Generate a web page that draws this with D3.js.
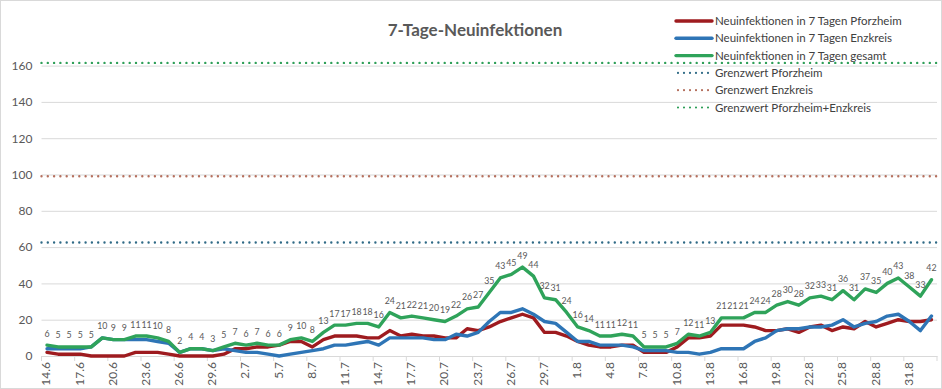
<!DOCTYPE html>
<html><head><meta charset="utf-8">
<script src="https://cdn.jsdelivr.net/npm/d3@7"></script>
<style>html,body{margin:0;padding:0;background:#fff;} svg{display:block;font-family:Lato,"Open Sans",sans-serif;}</style>
</head><body><div id="chart"></div>
<script>
const dates = ["14.6","15.6","16.6","17.6","18.6","19.6","20.6","21.6","22.6","23.6","24.6","25.6","26.6","27.6","28.6","29.6","30.6",
"1.7","2.7","3.7","4.7","5.7","6.7","7.7","8.7","9.7","10.7","11.7","12.7","13.7","14.7","15.7","16.7","17.7","18.7","19.7","20.7","21.7","22.7","23.7","24.7","25.7","26.7","27.7","28.7","29.7","30.7","31.7",
"1.8","2.8","3.8","4.8","5.8","6.8","7.8","8.8","9.8","10.8","11.8","12.8","13.8","14.8","15.8","16.8","17.8","18.8","19.8","20.8","21.8","22.8","23.8","24.8","25.8","26.8","27.8","28.8","29.8","30.8","31.8","1.9","2.9"];
const gesamt = [6,5,5,5,5,10,9,9,11,11,10,8,2,4,4,3,5,7,6,7,6,6,9,10,8,13,17,17,18,18,16,24,21,22,21,20,19,22,26,27,35,43,45,49,44,32,31,24,16,14,11,11,12,11,5,5,5,7,12,11,13,21,21,21,24,24,28,30,28,32,33,31,36,31,37,35,40,43,38,33,42];
const pforzheim = [2,1,1,1,0,0,0,0,2,2,2,1,0,0,0,0,1,4,4,5,5,6,8,8,5,9,11,11,11,10,10,14,11,12,11,11,10,10,15,14,16,19,21,23,21,13,13,11,8,6,5,5,6,6,2,2,2,5,10,10,11,17,17,17,16,14,14,15,13,16,17,14,16,15,19,16,18,20,19,19,20];
const enzkreis = [4,4,4,4,5,10,9,9,9,9,8,7,2,4,4,3,4,3,2,2,1,0,1,2,3,4,6,6,7,8,6,10,10,10,10,9,9,12,11,13,19,24,24,26,23,19,18,13,8,8,6,6,6,5,3,3,3,2,2,1,2,4,4,4,8,10,14,15,15,16,16,17,20,16,18,19,22,23,19,14,22];
const grenzwerte = [
  {name:"Grenzwert Pforzheim", value:62.5, color:"#2f6a86"},
  {name:"Grenzwert Enzkreis", value:99, color:"#b5705e"},
  {name:"Grenzwert Pforzheim+Enzkreis", value:161.5, color:"#2e9f58"}
];
const yTicks = [0,20,40,60,80,100,120,140,160];

const W=942,H=389;
const svg=d3.select("#chart").append("svg").attr("width",W).attr("height",H);
svg.append("rect").attr("x",0.5).attr("y",0.5).attr("width",W-1).attr("height",H-1).attr("fill","#fff").attr("stroke","#d9d9d9");

const left=41.5,right=937,y0=356;
const x=d3.scaleBand().domain(dates).range([left,right]);
const y=d3.scaleLinear().domain([0,160]).range([y0,65.6]);
const cx=d=>x(d)+x.bandwidth()/2;

// gridlines
const gy=svg.append("g").attr("transform",`translate(${left},0)`)
  .call(d3.axisLeft(y).tickValues(yTicks).tickSize(-(right-left)).tickPadding(9));
gy.select(".domain").remove();
gy.selectAll(".tick line").attr("stroke","#d9d9d9").attr("stroke-width",1);
gy.selectAll(".tick text").attr("fill","#595959").attr("font-size","12px").attr("font-family","Lato, sans-serif");

// x axis
const tickDates=dates.filter((d,i)=>i%3===0);
const gx=svg.append("g").attr("transform",`translate(0,${y0})`)
  .call(d3.axisBottom(x).tickValues(tickDates).tickSize(0).tickPadding(6));
gx.select(".domain").attr("stroke","#d9d9d9");
gx.selectAll(".tick text").attr("fill","#595959").attr("font-size","12px").attr("font-family","Lato, sans-serif")
  .attr("transform","rotate(-90)").attr("text-anchor","end").attr("dx","-0.5em").attr("dy","-0.1em").attr("x",null).attr("y",0)
  .style("dominant-baseline","central");
const bounds=dates.filter((d,i)=>i%3===0).map(d=>x(d)).concat([right]);
svg.append("g").selectAll("line").data(bounds).join("line")
  .attr("x1",d=>d).attr("x2",d=>d).attr("y1",y0).attr("y2",y0+5).attr("stroke","#d9d9d9");

// threshold lines
svg.append("g").selectAll("line").data(grenzwerte).join("line")
  .attr("x1",left).attr("x2",right).attr("y1",d=>y(d.value)).attr("y2",d=>y(d.value))
  .attr("stroke",d=>d.color).attr("stroke-width",2.4).attr("stroke-dasharray","0 6.3").attr("stroke-linecap","round");

const line=vals=>d3.line().x((d,i)=>cx(dates[i])).y(d=>y(d))(vals);
const series=[
  {name:"Neuinfektionen in 7 Tagen Pforzheim",vals:pforzheim,color:"#9e1b1f"},
  {name:"Neuinfektionen in 7 Tagen Enzkreis",vals:enzkreis,color:"#2e75b6"},
  {name:"Neuinfektionen in 7 Tagen gesamt",vals:gesamt,color:"#2fa35a"}
];
series.forEach(s=>{
  svg.append("path").attr("d",line(s.vals)).attr("fill","none").attr("stroke",s.color)
    .attr("stroke-width",3.4).attr("stroke-linejoin","round").attr("stroke-linecap","round");
});

// data labels
svg.append("g").selectAll("text").data(gesamt).join("text")
  .attr("x",(d,i)=>cx(dates[i])).attr("y",d=>y(d)-8.5)
  .attr("text-anchor","middle").attr("font-size","8.8px").attr("fill","#595959").text(d=>d);

// title
svg.append("text").attr("x",475).attr("y",36).attr("text-anchor","middle")
  .attr("font-size","17px").attr("font-weight","bold").attr("fill","#595959").text("7-Tage-Neuinfektionen");

// legend
const leg=[...series.map(s=>({name:s.name,color:s.color,dot:false})),
  ...grenzwerte.map(g=>({name:g.name,color:g.color,dot:true}))];
const lg=svg.append("g").selectAll("g").data(leg).join("g")
  .attr("transform",(d,i)=>`translate(676,${21+i*17.3})`);
lg.append("line").attr("x1",d=>d.dot?2:0).attr("x2",d=>d.dot?33:36).attr("y1",0).attr("y2",0)
  .attr("stroke",d=>d.color).attr("stroke-width",d=>d.dot?2.2:3.4)
  .attr("stroke-dasharray",d=>d.dot?"0 6":null).attr("stroke-linecap","round");
lg.append("text").attr("x",39).attr("y",0).attr("dy","0.35em").attr("font-size","11.5px").attr("fill","#404040").text(d=>d.name);
</script></body></html>
